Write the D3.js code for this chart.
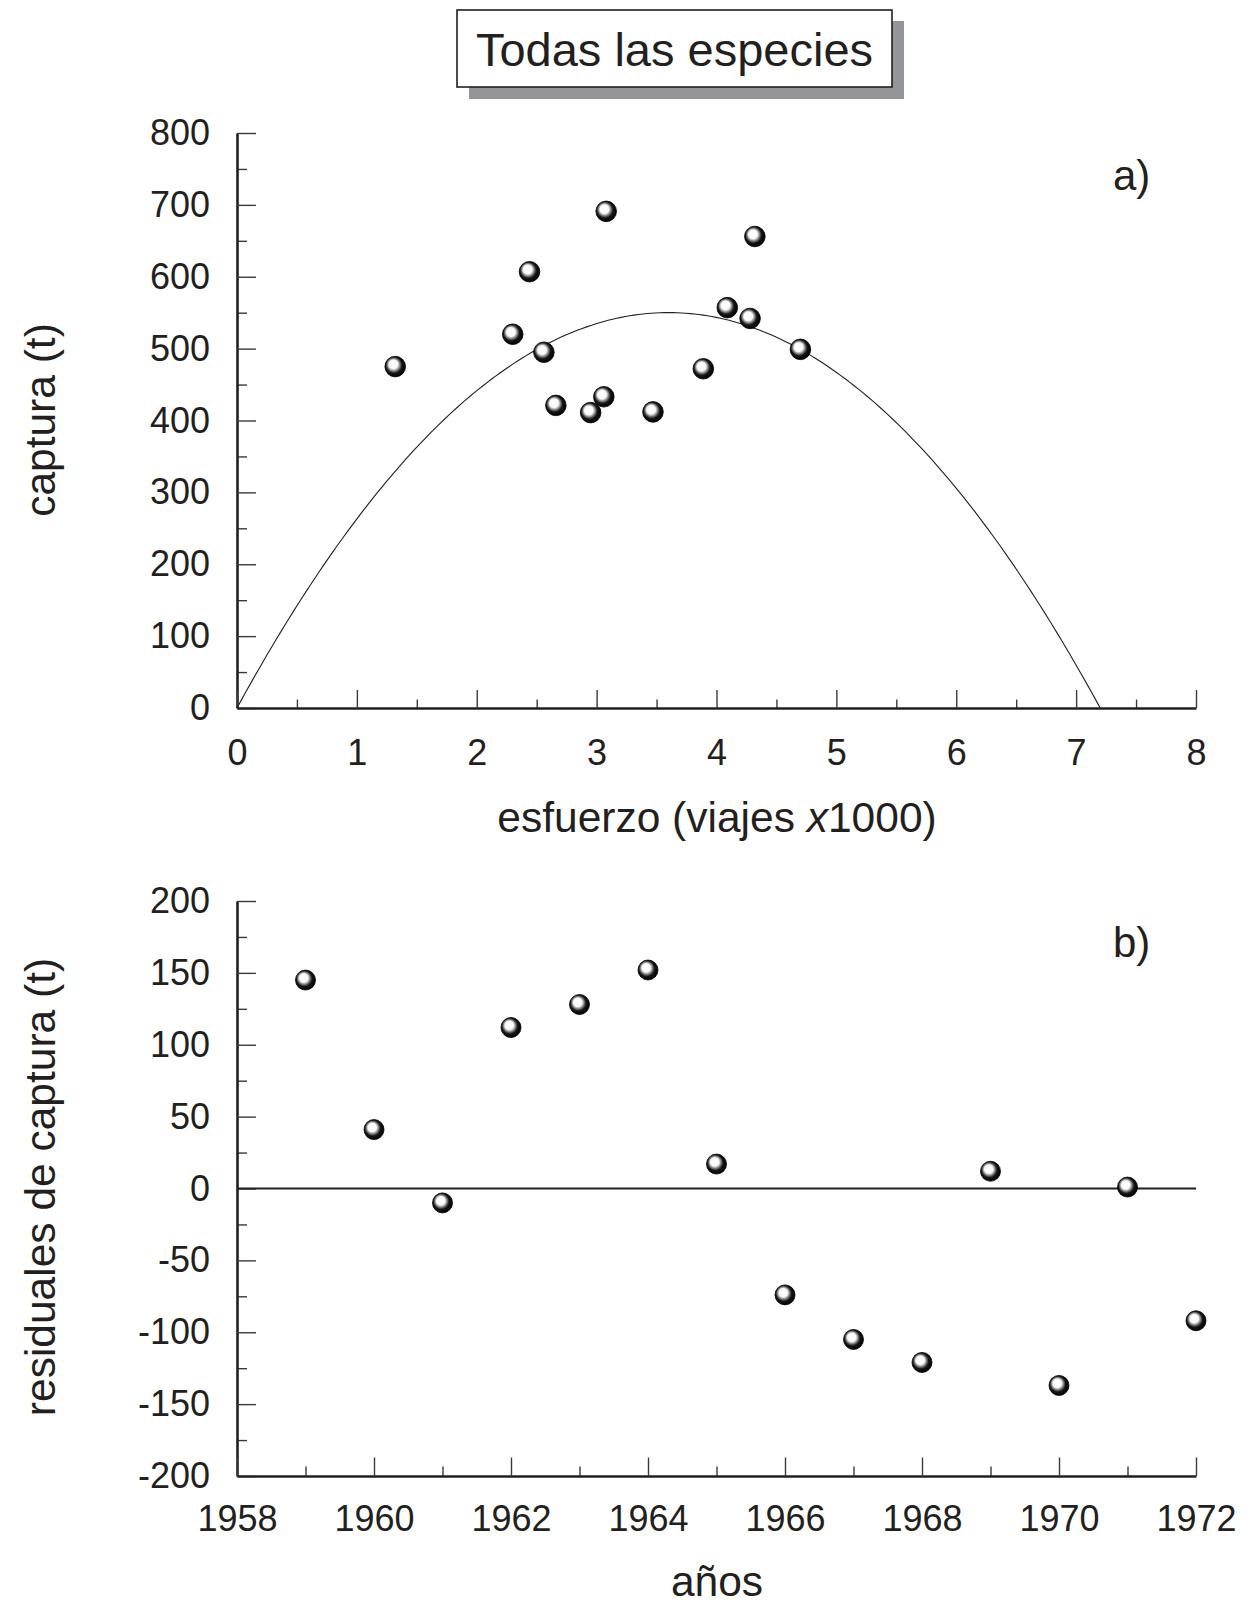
<!DOCTYPE html>
<html>
<head>
<meta charset="utf-8">
<script src="https://cdn.jsdelivr.net/npm/d3@7"></script>
<style>
  body { margin: 0; background: #fff; }
  svg { display: block; font-family: "Liberation Sans", Arial, sans-serif; }
  .domain { stroke: #231f20; stroke-width: 2.6; }
  .tick line { stroke: #3a3a3a; stroke-width: 1.4; }
  .tick text { fill: #231f20; font-size: 36px; }
</style>
</head>
<body>
<script>
// panel a) catch vs effort
const effort = [1.32, 2.30, 2.44, 2.56, 2.66, 2.95, 3.06, 3.08, 3.47, 3.89, 4.09, 4.28, 4.32, 4.70];
const catchT = [475, 520, 607, 495, 421, 411, 433, 691, 412, 472, 557, 542, 656, 499];
// fitted parabola C = a*f - b*f^2
const fitA = 305.6;
const fitB = 42.44;

// panel b) residuals by year
const years = [1959, 1960, 1961, 1962, 1963, 1964, 1965, 1966, 1967, 1968, 1969, 1970, 1971, 1972];
const residuals = [145, 41, -10, 112, 128, 152, 17, -74, -105, -121, 12, -137, 1, -92];

const effortTicks = [0, 1, 2, 3, 4, 5, 6, 7, 8];
const catchTicks = [0, 100, 200, 300, 400, 500, 600, 700, 800];
const yearTicks = [1958, 1960, 1962, 1964, 1966, 1968, 1970, 1972];
const residTicks = [-200, -150, -100, -50, 0, 50, 100, 150, 200];

const W = 1243, H = 1604;
const svg = d3.select("body").append("svg")
    .attr("width", W)
    .attr("height", H);

// sphere look for the points
const defs = svg.append("defs");
const grad = defs.append("radialGradient")
    .attr("id", "ball")
    .attr("cx", "46%").attr("cy", "46%").attr("r", "56%")
    .attr("fx", "38%").attr("fy", "35%");
grad.append("stop").attr("offset", "0%").attr("stop-color", "#ffffff");
grad.append("stop").attr("offset", "38%").attr("stop-color", "#f8f8f8");
grad.append("stop").attr("offset", "56%").attr("stop-color", "#777");
grad.append("stop").attr("offset", "70%").attr("stop-color", "#161616");
grad.append("stop").attr("offset", "100%").attr("stop-color", "#000");

// title box with drop shadow
svg.append("rect")
    .attr("x", 469).attr("y", 21)
    .attr("width", 435).attr("height", 78)
    .attr("fill", "#939598");
svg.append("rect")
    .attr("x", 457).attr("y", 10)
    .attr("width", 435).attr("height", 77)
    .attr("fill", "#fff")
    .attr("stroke", "#231f20")
    .attr("stroke-width", 1.6);
svg.append("text")
    .attr("x", 674.5).attr("y", 65.5)
    .attr("text-anchor", "middle")
    .attr("font-size", 47)
    .attr("fill", "#231f20")
    .text("Todas las especies");

const left = 237, right = 1196;
const plain = d => String(d);

// ---------- panel a ----------
const xA = d3.scaleLinear().domain([0, 8]).range([left, right]);
const yA = d3.scaleLinear().domain([0, 800]).range([708, 133]);

// minor ticks
svg.append("g")
    .attr("transform", `translate(${left},0)`)
    .call(d3.axisLeft(yA).tickValues(d3.range(50, 800, 100)).tickSizeInner(-10).tickSizeOuter(0).tickFormat(""))
    .call(g => g.select(".domain").remove());
svg.append("g")
    .attr("transform", "translate(0,708)")
    .call(d3.axisBottom(xA).tickValues(d3.range(0.5, 8, 1)).tickSizeInner(-8.5).tickSizeOuter(0).tickFormat(""))
    .call(g => g.select(".domain").remove());

svg.append("g")
    .attr("transform", `translate(${left},0)`)
    .call(d3.axisLeft(yA).tickValues(catchTicks).tickFormat(plain).tickSizeInner(-19).tickSizeOuter(0).tickPadding(27));
svg.append("g")
    .attr("transform", "translate(0,708)")
    .call(d3.axisBottom(xA).tickValues(effortTicks).tickFormat(plain).tickSizeInner(-18).tickSizeOuter(0).tickPadding(31));

// fitted curve
const fMax = fitA / fitB;
const curve = d3.range(0, fMax, fMax / 200).concat([fMax]).map(f => [f, fitA * f - fitB * f * f]);
svg.append("path")
    .datum(curve)
    .attr("fill", "none")
    .attr("stroke", "#231f20")
    .attr("stroke-width", 1.1)
    .attr("d", d3.line().x(d => xA(d[0])).y(d => yA(d[1])));

svg.append("g")
    .selectAll("circle")
    .data(effort.map((e, i) => [e, catchT[i]]))
    .join("circle")
    .attr("cx", d => xA(d[0]))
    .attr("cy", d => yA(d[1]))
    .attr("r", 10.3)
    .attr("fill", "url(#ball)")
    .attr("stroke", "#000")
    .attr("stroke-width", 0.8);

svg.append("text")
    .attr("x", 1113).attr("y", 190)
    .attr("font-size", 42)
    .attr("fill", "#231f20")
    .text("a)");

const xTitle = svg.append("text")
    .attr("x", 717).attr("y", 832)
    .attr("text-anchor", "middle")
    .attr("font-size", 42.5)
    .attr("fill", "#231f20");
xTitle.append("tspan").text("esfuerzo (viajes ");
xTitle.append("tspan").attr("font-style", "italic").text("x");
xTitle.append("tspan").text("1000)");

svg.append("text")
    .attr("transform", "translate(55,420) rotate(-90)")
    .attr("text-anchor", "middle")
    .attr("font-size", 42.5)
    .attr("fill", "#231f20")
    .text("captura (t)");

// ---------- panel b ----------
const xB = d3.scaleLinear().domain([1958, 1972]).range([left, right]);
const yB = d3.scaleLinear().domain([-200, 200]).range([1476, 901]);

svg.append("g")
    .attr("transform", `translate(${left},0)`)
    .call(d3.axisLeft(yB).tickValues(d3.range(-175, 200, 50)).tickSizeInner(-10).tickSizeOuter(0).tickFormat(""))
    .call(g => g.select(".domain").remove());
svg.append("g")
    .attr("transform", "translate(0,1476)")
    .call(d3.axisBottom(xB).tickValues(d3.range(1959, 1972, 2)).tickSizeInner(-9.5).tickSizeOuter(0).tickFormat(""))
    .call(g => g.select(".domain").remove());

svg.append("g")
    .attr("transform", `translate(${left},0)`)
    .call(d3.axisLeft(yB).tickValues(residTicks).tickFormat(plain).tickSizeInner(-19).tickSizeOuter(0).tickPadding(27));
svg.append("g")
    .attr("transform", "translate(0,1476)")
    .call(d3.axisBottom(xB).tickValues(yearTicks).tickFormat(plain).tickSizeInner(-18.5).tickSizeOuter(0).tickPadding(29));

// zero line
svg.append("line")
    .attr("x1", xB(1958)).attr("x2", xB(1972))
    .attr("y1", yB(0)).attr("y2", yB(0))
    .attr("stroke", "#231f20")
    .attr("stroke-width", 2.2);

svg.append("g")
    .selectAll("circle")
    .data(years.map((y, i) => [y, residuals[i]]))
    .join("circle")
    .attr("cx", d => xB(d[0]))
    .attr("cy", d => yB(d[1]))
    .attr("r", 10)
    .attr("fill", "url(#ball)")
    .attr("stroke", "#000")
    .attr("stroke-width", 0.8);

svg.append("text")
    .attr("x", 1113).attr("y", 957)
    .attr("font-size", 42)
    .attr("fill", "#231f20")
    .text("b)");

svg.append("text")
    .attr("x", 717).attr("y", 1596)
    .attr("text-anchor", "middle")
    .attr("font-size", 42.5)
    .attr("fill", "#231f20")
    .text("años");

svg.append("text")
    .attr("transform", "translate(55,1187) rotate(-90)")
    .attr("text-anchor", "middle")
    .attr("font-size", 42.5)
    .attr("fill", "#231f20")
    .text("residuales de captura (t)");
</script>
</body>
</html>
